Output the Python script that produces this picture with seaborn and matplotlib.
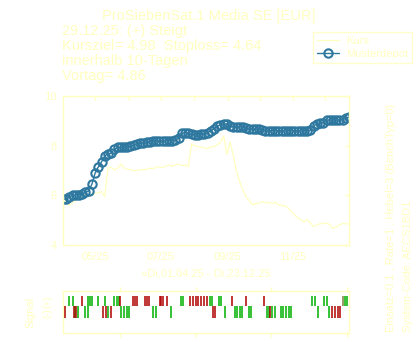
import matplotlib
matplotlib.use("Agg")
import numpy as np
import pandas as pd
import seaborn as sns
import matplotlib.pyplot as plt

# ---------------- data ----------------
start_date = "2025-04-01"
end_date = "2025-12-23"

kurs = [5.81, 5.70, 5.61, 5.70, 5.82, 5.90, 5.95, 6.00, 6.03, 6.05,
        6.08, 6.10, 6.15, 5.95, 7.10, 7.12, 7.02, 7.10, 7.26, 7.10,
        7.05, 7.03, 7.00, 7.00, 7.02, 7.03, 7.06, 7.09, 7.08, 7.12,
        7.15, 7.12, 7.18, 7.22, 7.18, 7.24, 7.26, 7.20, 7.22, 7.15,
        8.07, 8.00, 7.96, 7.95, 7.90, 7.89, 7.96, 7.95, 8.05, 8.12,
        8.39, 7.65, 8.15, 7.60, 6.95, 6.55, 6.20, 5.95, 5.78, 5.62,
        5.65, 5.70, 5.74, 5.70, 5.72, 5.66, 5.72, 5.64, 5.60, 5.58,
        5.50, 5.35, 5.22, 5.10, 5.00, 4.95, 5.02, 4.88, 4.74, 4.80,
        4.87, 4.85, 4.90, 4.82, 4.67, 4.72, 4.80, 4.87, 4.85, 4.85]

musterdepot = [5.84, 5.86, 5.95, 6.00, 6.02, 6.03, 6.05, 6.12, 6.18, 6.45,
               6.90, 7.15, 7.35, 7.58, 7.68, 7.70, 7.85, 7.93, 7.93, 7.93,
               7.95, 7.97, 8.03, 8.07, 8.10, 8.12, 8.14, 8.16, 8.17, 8.18,
               8.20, 8.20, 8.20, 8.20, 8.20, 8.22, 8.30, 8.50, 8.52, 8.50,
               8.45, 8.43, 8.43, 8.45, 8.48, 8.52, 8.60, 8.68, 8.78, 8.85,
               8.88, 8.87, 8.80, 8.75, 8.75, 8.76, 8.76, 8.70, 8.66, 8.66,
               8.66, 8.66, 8.62, 8.60, 8.60, 8.60, 8.60, 8.60, 8.60, 8.60,
               8.60, 8.60, 8.60, 8.60, 8.60, 8.60, 8.60, 8.62, 8.80, 8.88,
               8.90, 8.93, 9.03, 9.03, 9.03, 9.03, 9.03, 9.05, 9.12, 9.15]

# signal days (offset in days from start date)
sig_up_green = [6, 9, 23, 25, 27, 33, 39, 47, 50, 52, 110, 112, 137, 139,
                145, 147, 232, 234, 243, 246, 262, 264]
sig_up_red = [18, 53, 65, 67, 69, 76, 78, 80, 90, 91, 93, 97, 118, 121, 124,
              126, 128, 131, 134, 157, 170, 187]
sig_up_mixed = [260]
sig_down_red = [0.5, 2.3, 9.8, 12.5, 37.2, 39.9, 44.6, 139.3, 141.2, 192.7,
                249.9, 252.6, 255.4, 257.8]
sig_down_green = [11.1, 14.4, 20.4, 22.8, 42.3, 54.3, 56.7, 59.4, 61.8, 84.1,
                  86.4, 100.8, 150.5, 159.8, 162.1, 164.4, 166.7, 172.8, 175.1,
                  189.5, 191.8, 194.6, 196.9, 202.5, 204.8, 207.1, 209.8, 212.1,
                  236.9, 247.5]
signal_tick_days = [53, 123.5, 193, 264]

month_ticks = ["2025-05-01", "2025-06-01", "2025-07-01", "2025-08-01",
               "2025-09-01", "2025-10-01", "2025-11-01", "2025-12-01"]
month_labels = ["05/25", "", "07/25", "", "09/25", "", "11/25", ""]
y_ticks = [4, 6, 8, 10]
signal_rows = [1, 0]
signal_labels = ["(+)", "(-)"]

title = "ProSiebenSat.1 Media SE [EUR]"
info_lines = ["29.12.25: (+) Steigt", "Kursziel= 4.98  Stoploss= 4.64",
              "innerhalb 10-Tagen", "Vortag= 4.86"]
range_label = "\u00bbDi,01.04.25 - Di,23.12.25"
right_line1 = "Einsatz=0.1 , Rate=1 , Hebel=3 (BenchTyp=0)"
right_line2 = "System-Code: AECS1BD1"

# ---------------- style ----------------
sns.set_theme(style="white")
plt.rcParams["font.family"] = ["Liberation Sans", "DejaVu Sans"]
FG = "#ffffc0"
BLUE = "#2e78a0"
GREEN = "#00b000"
RED = "#b00000"
MIXED = "#808040"
W, H = 420, 350

start = pd.Timestamp(start_date)
end = pd.Timestamp(end_date)
dates = pd.date_range(start, end, periods=len(kurs))
df = pd.DataFrame({"Datum": dates, "Kurs": kurs, "Musterdepot": musterdepot})

fig = plt.figure(figsize=(W / 100, H / 100), dpi=100)
fig.patch.set_facecolor("white")
ax = fig.add_axes([63 / W, 105 / H, 286 / W, 149 / H])
ax2 = fig.add_axes([63 / W, 17 / H, 286 / W, 42 / H])

sns.lineplot(data=df, x="Datum", y="Kurs", ax=ax, color=FG, linewidth=0.9,
             label="Kurs")
sns.lineplot(data=df, x="Datum", y="Musterdepot", ax=ax, color=BLUE,
             linewidth=1.0, marker="o", markersize=6.0, label="Musterdepot")
dep_line = ax.lines[-1]
dep_line.set_markerfacecolor("none")
dep_line.set_markeredgecolor(BLUE)
dep_line.set_markeredgewidth(1.5)

ax.set_xlim(start, end)
ax.set_ylim(4, 10)
ax.set_yticks(y_ticks)
ax.set_yticklabels([str(v) for v in y_ticks])
ax.set_xticks(pd.to_datetime(month_ticks))
ax.set_xticklabels(month_labels)
ax.set_xlabel("")
ax.set_ylabel("")
ax.tick_params(direction="in", colors=FG, labelcolor=FG, labelsize=8,
               top=True, right=True, length=3, width=1)
ax.tick_params(axis="x", pad=5)
ax.tick_params(axis="y", pad=4.5)
for s in ax.spines.values():
    s.set_color(FG)
    s.set_linewidth(1)

handles, labels = ax.get_legend_handles_labels()
leg = ax.legend(handles, labels, loc="upper right",
                bbox_to_anchor=(412 / W, 1 - 32 / H),
                bbox_transform=fig.transFigure, frameon=True, fancybox=False,
                edgecolor=FG, fontsize=8, handlelength=2.0, borderpad=0.35,
                labelspacing=0.3, handletextpad=0.6, borderaxespad=0)
leg.get_frame().set_linewidth(1.0)
leg.get_frame().set_facecolor("white")
for t in leg.get_texts():
    t.set_color(FG)

# signal panel
def to_dates(days):
    return start + pd.to_timedelta(np.asarray(days, dtype=float), unit="D")

ax2.vlines(to_dates(sig_up_green), 0.5, 1.5, color=GREEN, linewidth=1.1)
ax2.vlines(to_dates(sig_up_red), 0.5, 1.5, color=RED, linewidth=1.1)
ax2.vlines(to_dates(sig_up_mixed), 0.5, 1.5, color=MIXED, linewidth=1.1)
ax2.vlines(to_dates(sig_down_green), -0.7, 0.5, color=GREEN, linewidth=1.1)
ax2.vlines(to_dates(sig_down_red), -0.7, 0.5, color=RED, linewidth=1.1)
ax2.set_xlim(start, end)
ax2.set_ylim(-2.2, 2)
ax2.set_xticks(to_dates(signal_tick_days))
ax2.set_xticklabels([])
ax2.set_yticks(signal_rows)
ax2.set_yticklabels([])
ax2.tick_params(direction="out", colors=FG, length=3, width=1,
                top=True, bottom=True)
ax2.set_facecolor("white")
for s in ax2.spines.values():
    s.set_color(FG)
    s.set_linewidth(1)
# row labels, rotated like the reference
for lab, ypx in zip(signal_labels, [302, 313.5]):
    fig.text(47 / W, 1 - ypx / H, lab, rotation=90, ha="center",
             va="center", color=FG, fontsize=7)

# texts
fig.text(209 / W, 1 - 20 / H, title, ha="center", va="baseline",
         color=FG, fontsize=10.5)
for i, line in enumerate(info_lines):
    fig.text(62 / W, 1 - (35 + 15 * i) / H, line, ha="left", va="baseline",
             color=FG, fontsize=10.5)
fig.text(206 / W, 1 - 273 / H, range_label, ha="center", va="center",
         color=FG, fontsize=8)
fig.text(30 / W, 1 - 312 / H, "Signal", rotation=90, ha="center",
         va="center", color=FG, fontsize=8)
fig.text(391 / W, 1 - 332 / H, right_line1, rotation=90, ha="center",
         va="bottom", color=FG, fontsize=8)
fig.text(408 / W, 1 - 332 / H, right_line2, rotation=90, ha="center",
         va="bottom", color=FG, fontsize=8)

fig.savefig("out.png", dpi=100, facecolor="white")
